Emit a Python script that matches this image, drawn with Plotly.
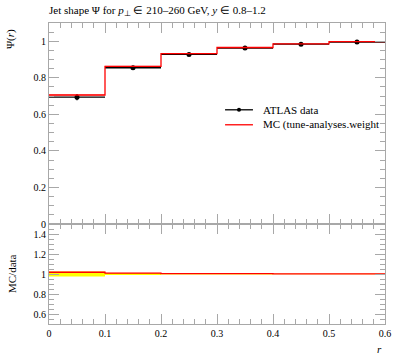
import numpy as np
import plotly.graph_objects as go

# ---- data ----
bin_edges = [0.0, 0.1, 0.2, 0.3, 0.4, 0.5, 0.6]
data_vals = [0.694, 0.855, 0.928, 0.963, 0.984, 0.996]
data_err = [0.017, 0.008, 0.005, 0.004, 0.003, 0.002]
mc_vals = [0.706, 0.863, 0.932, 0.966, 0.986, 0.998]
mc_err = [0.004, 0.003, 0.002, 0.002, 0.001, 0.001]

edges = np.array(bin_edges)
centers = 0.5 * (edges[:-1] + edges[1:])
halfw = 0.5 * (edges[1:] - edges[:-1])
d = np.array(data_vals)
de = np.array(data_err)
m = np.array(mc_vals)
me = np.array(mc_err)

def step(v):
    return list(v) + [v[-1]]

FONT = "Liberation Serif"
RED = "#ff0000"
GRID = "#a8a8a8"

fig = go.Figure()

# MC band (main)
fig.add_trace(go.Scatter(x=edges, y=step(m - me), mode="lines", line=dict(width=0, shape="hv"),
                         showlegend=False, hoverinfo="skip", xaxis="x", yaxis="y"))
fig.add_trace(go.Scatter(x=edges, y=step(m + me), mode="lines", line=dict(width=0, shape="hv"),
                         fill="tonexty", fillcolor="rgba(255,0,0,0.35)",
                         showlegend=False, hoverinfo="skip", xaxis="x", yaxis="y"))
# data points
fig.add_trace(go.Scatter(x=centers, y=d, mode="markers",
                         marker=dict(color="black", size=5),
                         error_x=dict(type="data", array=halfw, width=0, color="black", thickness=1.3),
                         error_y=dict(type="data", array=de, width=0, color="black", thickness=1.3),
                         showlegend=False, xaxis="x", yaxis="y"))
# MC line
fig.add_trace(go.Scatter(x=edges, y=step(m), mode="lines", line=dict(color=RED, width=1.3, shape="hv"),
                         showlegend=False, xaxis="x", yaxis="y"))

# ratio panel: data band
fig.add_trace(go.Scatter(x=edges, y=step(1 - de / d), mode="lines", line=dict(width=0, shape="hv"),
                         showlegend=False, hoverinfo="skip", xaxis="x2", yaxis="y2"))
fig.add_trace(go.Scatter(x=edges, y=step(1 + de / d), mode="lines", line=dict(width=0, shape="hv"),
                         fill="tonexty", fillcolor="#ffff00",
                         showlegend=False, hoverinfo="skip", xaxis="x2", yaxis="y2"))
# MC ratio band + line
fig.add_trace(go.Scatter(x=edges, y=step((m - me) / d), mode="lines", line=dict(width=0, shape="hv"),
                         showlegend=False, hoverinfo="skip", xaxis="x2", yaxis="y2"))
fig.add_trace(go.Scatter(x=edges, y=step((m + me) / d), mode="lines", line=dict(width=0, shape="hv"),
                         fill="tonexty", fillcolor="rgba(255,0,0,0.3)",
                         showlegend=False, hoverinfo="skip", xaxis="x2", yaxis="y2"))
fig.add_trace(go.Scatter(x=edges, y=step(m / d), mode="lines", line=dict(color=RED, width=1.3, shape="hv"),
                         showlegend=False, xaxis="x2", yaxis="y2"))

axis_common = dict(showline=True, linecolor=GRID, linewidth=1, mirror="ticks",
                   ticks="inside", ticklen=10, tickcolor=GRID, tickwidth=1,
                   showgrid=False, zeroline=False, automargin=False,
                   tickfont=dict(family=FONT, size=10, color="black"))

ratio_top = 100 / 301

fig.update_layout(
    template="none",
    width=397, height=358,
    margin=dict(l=49, r=12, t=23, b=34, autoexpand=False),
    paper_bgcolor="white", plot_bgcolor="white",
    showlegend=False,
    font=dict(family=FONT, size=10, color="black"),
    xaxis=dict(range=[0, 0.6], domain=[0, 1], anchor="y", dtick=0.1, tick0=0, showticklabels=False,
               minor=dict(dtick=0.02, ticks="inside", ticklen=5, tickcolor=GRID), **axis_common),
    yaxis=dict(range=[0, 1.1], domain=[ratio_top, 1], anchor="x", dtick=0.2, tick0=0,
               minor=dict(dtick=0.05, ticks="inside", ticklen=5, tickcolor=GRID), **axis_common),
    xaxis2=dict(range=[0, 0.6], domain=[0, 1], anchor="y2", dtick=0.1, tick0=0,
                minor=dict(dtick=0.02, ticks="inside", ticklen=5, tickcolor=GRID), **axis_common),
    yaxis2=dict(range=[0.5, 1.5], domain=[0, ratio_top], anchor="x2", dtick=0.2, tick0=0,
                minor=dict(dtick=0.05, ticks="inside", ticklen=5, tickcolor=GRID), **axis_common),
)

# title
fig.add_annotation(text="Jet shape Ψ for <i>p</i><sub>⊥</sub> ∈ 210–260 GeV, <i>y</i> ∈ 0.8–1.2",
                   xref="paper", yref="paper", x=0, xshift=-2, y=1, yshift=12, xanchor="left", yanchor="middle",
                   showarrow=False, font=dict(family=FONT, size=11, color="black"))
# axis labels
fig.add_annotation(text="Ψ(<i>r</i>)", xref="paper", yref="paper", x=0, xshift=-39, y=1, yshift=-4,
                   xanchor="center", yanchor="top", textangle=-90, showarrow=False,
                   font=dict(family=FONT, size=11, color="black"))
fig.add_annotation(text="MC/data", xref="paper", yref="paper", x=0, xshift=-37, y=ratio_top / 2,
                   xanchor="center", yanchor="middle", textangle=-90, showarrow=False,
                   font=dict(family=FONT, size=11, color="black"))
fig.add_annotation(text="<i>r</i>", xref="paper", yref="paper", x=1, xshift=-1, y=0, yshift=-17,
                   xanchor="right", yanchor="top", showarrow=False,
                   font=dict(family=FONT, size=11, color="black"))

# legend
leg_x0, leg_x1, leg_tx = 0.524, 0.607, 0.631
fig.add_shape(type="line", xref="x domain", yref="y", x0=leg_x0, x1=leg_x1, y0=0.625, y1=0.625,
              line=dict(color="black", width=1.3))
fig.add_shape(type="circle", xref="x domain", yref="y", x0=(leg_x0 + leg_x1) / 2 - 0.006,
              x1=(leg_x0 + leg_x1) / 2 + 0.006, y0=0.625 - 0.011, y1=0.625 + 0.011,
              fillcolor="black", line=dict(color="black", width=0))
fig.add_shape(type="line", xref="x domain", yref="y", x0=leg_x0, x1=leg_x1, y0=0.543, y1=0.543,
              line=dict(color=RED, width=1.3))
fig.add_annotation(text="ATLAS data", xref="x domain", yref="y", x=leg_tx, y=0.625,
                   xanchor="left", yanchor="middle", showarrow=False,
                   font=dict(family=FONT, size=11, color="black"))
fig.add_annotation(text="MC (tune-analyses.weight", xref="x domain", yref="y", x=leg_tx, y=0.543,
                   xanchor="left", yanchor="middle", showarrow=False,
                   font=dict(family=FONT, size=11, color="black"))

fig.write_html("out.html", config={"displayModeBar": False},
               post_script="document.body.style.margin='0';document.body.style.overflow='hidden';")
